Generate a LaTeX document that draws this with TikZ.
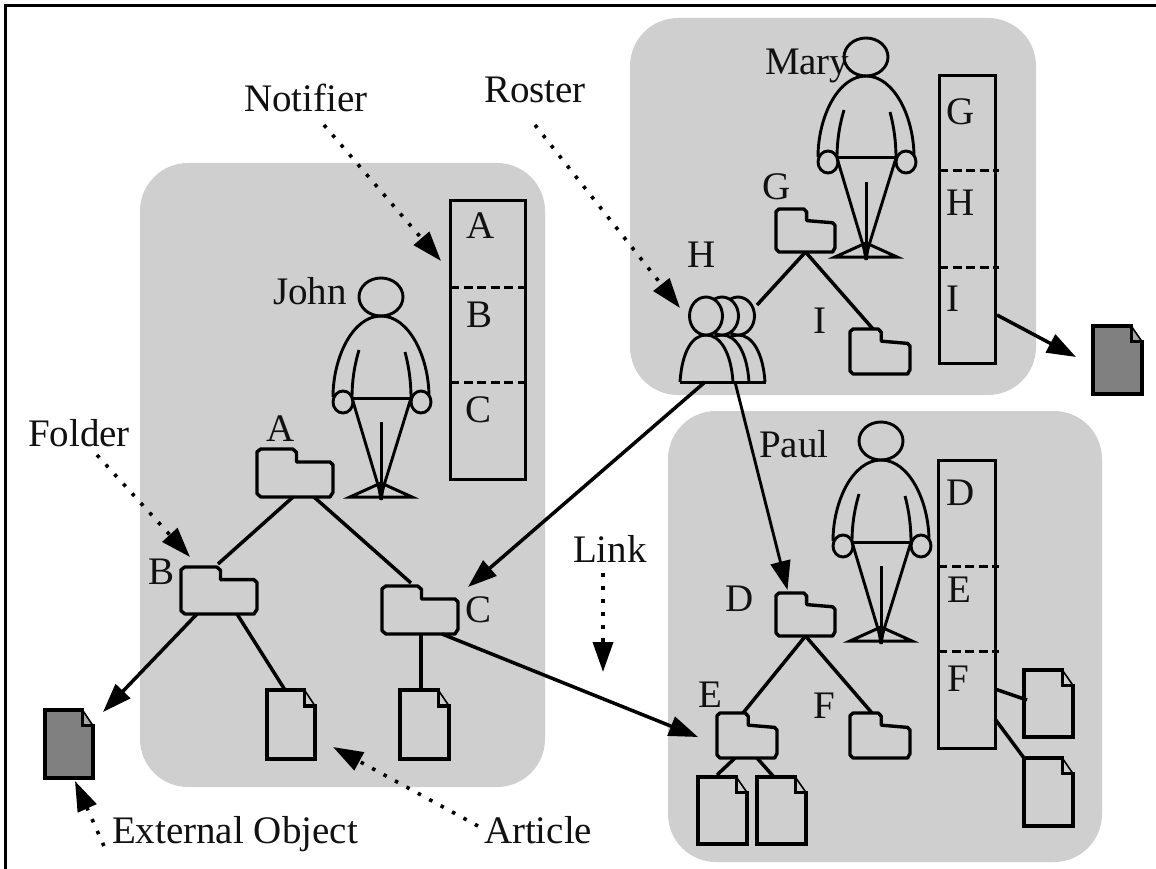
\documentclass[tikz,border=0pt]{standalone}
\usepackage{fontspec}
\setmainfont{Liberation Serif}
\usetikzlibrary{arrows.meta}
\definecolor{regiongray}{HTML}{CFCFCF}
\definecolor{docdark}{HTML}{808080}
\definecolor{foldlight}{HTML}{A6A6A6}
\definecolor{inkblack}{HTML}{111111}
\tikzset{
  region/.style={fill=regiongray,rounded corners=48pt},
  objbox/.style={inner sep=0pt,outer sep=0pt},
  lst/.style={draw=black,line width=3pt},
  sep dash/.style={draw=black,line width=3pt,dash pattern=on 9pt off 4.5pt},
  shapeline/.style={draw=black,line width=3.4pt,line join=round},
  figline/.style={draw=black,line width=2.9pt},
  link/.style={draw=black,line width=3.5pt},
  linkarrow/.style={draw=black,line width=3.5pt,-{Triangle[length=29pt,width=20pt]}},
  callout/.style={draw=black,line width=3.6pt,dash pattern=on 3.5pt off 9.5pt,-{Triangle[length=30pt,width=20pt,color=black,fill=black]}},
  lbl/.style={anchor=base west,inner sep=0pt,outer sep=0pt,text=inkblack,font=\fontsize{39}{44}\selectfont},
}
% folder: name, left, top, right, bottom, slope of the lower top edge
\newcommand{\folderobj}[6]{%
  \pgfmathsetmacro{\fw}{#4-#2}\pgfmathsetmacro{\fh}{#5-#3}%
  \node[objbox,minimum width=\fw pt,minimum height=\fh pt] (#1) at ({(#2+#4)/2},{(#3+#5)/2}) {};
  \begin{scope}[shift={(#2,#3)},x=\fw pt,y=-\fh pt]
    \draw[shapeline] (0,0.06)--(0.05,0)--(0.47,0)--(0.52,0.07)--(0.52,0.27)--(0.96,{0.27+#6})--(1,{0.33+#6})--(1,0.9)--(0.96,1)--(0.05,1)--(0,0.93)--cycle;
  \end{scope}}
% document: name, left, top, right, bottom, fill, fold fill
\newcommand{\docobj}[7]{%
  \pgfmathsetmacro{\fw}{#4-#2}\pgfmathsetmacro{\fh}{#5-#3}%
  \node[objbox,minimum width=\fw pt,minimum height=\fh pt] (#1) at ({(#2+#4)/2},{(#3+#5)/2}) {};
  \begin{scope}[shift={(#2,#3)},x=\fw pt,y=-\fh pt]
    \fill[#6] (0,0)--(0.78,0)--(1,0.23)--(1,1)--(0,1)--cycle;
    \fill[#7] (0.78,0)--(1,0.23)--(0.78,0.23)--cycle;
    \draw[shapeline,line join=miter] (0.78,0)--(0,0)--(0,1)--(1,1)--(1,0.23)--(0.78,0.23)--cycle;
    \draw[black,line width=1.6pt] (0.78,0)--(1,0.23);
  \end{scope}}
\newcommand{\personfig}[2]{%
  \begin{scope}[shift={(#1,#2)}]
    \draw[figline] (0,0) ellipse [x radius=22pt,y radius=19pt];
    \draw[figline] (-48,100) .. controls (-48,60) and (-28,19) .. (0,19) .. controls (28,19) and (48,60) .. (48,100);
    \draw[figline] (-22,53) .. controls (-27,70) and (-29,85) .. (-29,101);
    \draw[figline] (24,55) .. controls (28,70) and (30,85) .. (30,101);
    \draw[figline,fill=regiongray] (-38,105) ellipse [x radius=10pt,y radius=11pt];
    \draw[figline,fill=regiongray] (40,105) ellipse [x radius=10pt,y radius=11pt];
    \draw[figline,line width=3pt] (-29,101)--(30,101);
    \draw[figline] (-29,101)--(0,198)--(30,101);
    \draw[figline,line width=3pt] (0,125)--(0,203);
    \draw[figline,line width=3pt,line join=miter] (-31,200)--(0,186)--(31,200)--cycle;
    \fill[black] (-4,188)--(4,188)--(1.5,203)--(-1.5,203)--cycle;
  \end{scope}}
\newcommand{\rosterguy}[1]{%
  \draw[figline,fill=regiongray] (#1-26,382) .. controls (#1-24,352) and (#1-14,335) .. (#1,335) .. controls (#1+14,335) and (#1+25,352) .. (#1+27,382);
  \draw[figline,fill=regiongray] (#1,316) ellipse [x radius=16.5pt,y radius=19pt];}
\begin{document}
\begin{tikzpicture}[x=1pt,y=-1pt]
\useasboundingbox (0,0) rectangle (1156,869);
\fill[white] (0,0) rectangle (1156,869);
\coordinate (frameTL) at (5,6);
\coordinate (frameTR) at (1156,6);
\coordinate (frameBL) at (5,869);
\draw[black,line width=3pt] (frameBL)--(frameTL)--(frameTR);
% regions
\fill[region] (140,163) rectangle (545,787);
\fill[region] (630,18) rectangle (1036,395);
\fill[region] (668,411) rectangle (1102,862);
% lists
\node[objbox,lst,minimum width=75pt,minimum height=278pt] (listJ) at (488,340) {};
\node[objbox,lst,minimum width=56pt,minimum height=287pt] (listM) at (967,219.5) {};
\node[objbox,lst,minimum width=57pt,minimum height=288pt] (listP) at (966.5,604) {};
\coordinate (jA) at (450,287); \coordinate (jAr) at (527,287);
\coordinate (jB) at (450,382); \coordinate (jBr) at (527,382);
\coordinate (mA) at (939,171); \coordinate (mAr) at (999,171);
\coordinate (mB) at (939,267); \coordinate (mBr) at (999,267);
\coordinate (pA) at (938,566); \coordinate (pAr) at (999,566);
\coordinate (pB) at (938,651); \coordinate (pBr) at (999,651);
\draw[sep dash] (jA)--(jAr); \draw[sep dash] (jB)--(jBr);
\draw[sep dash] (mA)--(mAr); \draw[sep dash] (mB)--(mBr);
\draw[sep dash] (pA)--(pAr); \draw[sep dash] (pB)--(pBr);
% people
\personfig{381}{297}
\personfig{866}{57}
\personfig{881}{441}
% folders
\folderobj{fA}{257}{449}{333}{497}{0}
\folderobj{fB}{181}{567}{257}{614}{0}
\folderobj{fC}{382}{586}{458}{634}{0}
\folderobj{fG}{776}{209}{835}{252}{0.05}
\folderobj{fI}{850}{329}{910}{374}{0.05}
\folderobj{fD}{776}{593}{835}{636}{0.05}
\folderobj{fE}{717}{713}{777}{758}{0.05}
\folderobj{fF}{850}{713}{910}{758}{0.05}
% documents
\docobj{dExtL}{45}{710}{93}{778}{docdark}{foldlight}
\docobj{dExtR}{1093}{326}{1142}{394}{docdark}{foldlight}
\docobj{dB}{267}{690}{315}{759}{regiongray}{regiongray}
\docobj{dC}{400}{690}{449}{759}{regiongray}{regiongray}
\docobj{dE1}{698}{777}{747}{844}{regiongray}{regiongray}
\docobj{dE2}{757}{777}{806}{844}{regiongray}{regiongray}
\docobj{dF1}{1024}{670}{1073}{737}{regiongray}{regiongray}
\docobj{dF2}{1024}{758}{1073}{826}{regiongray}{regiongray}
% roster
\node[objbox,minimum width=86pt,minimum height=85pt] (roster) at (723,339.5) {};
\rosterguy{738}
\rosterguy{722}
\rosterguy{706}
\draw[figline,line width=3pt] (roster.south west)--(roster.south east);
% tree links
\draw[link] ([xshift=-2pt]fA.south)--([xshift=-1pt,yshift=3pt]fB.north);
\draw[link] ([xshift=19pt]fA.south)--([xshift=-47pt,yshift=3pt]fC.north east);
\draw[link] ([xshift=18pt]fB.south)--([xshift=-6pt]dB.north);
\draw[link] ([xshift=1pt]fC.south)--([xshift=-3.5pt]dC.north);
\draw[link] (fG.south)--([xshift=-9pt,yshift=-8pt]roster.north east);
\draw[link] (fG.south)--([xshift=-7pt]fI.north);
\draw[link] (fD.south)--([xshift=-4pt]fE.north);
\draw[link] (fD.south)--([xshift=-8pt]fF.north);
\draw[link] ([xshift=-12pt]fE.south)--([xshift=-5.5pt,yshift=2pt]dE1.north);
\draw[link] ([xshift=10pt]fE.south)--([xshift=-8.5pt,yshift=1pt]dE2.north);
\draw[link] ([yshift=59pt]listP.south east)--([yshift=3.5pt,xshift=3pt]dF1.west);
\draw[link] ([yshift=29pt]listP.south east)--(dF2.north west);
% reference arrows
\draw[linkarrow] ([xshift=-22pt]fB.south)--([shift={(10pt,-2pt)}]dExtL.north east);
\draw[linkarrow] ([xshift=-16pt]fC.south east)--([shift={(-19pt,-24pt)}]fE.north west);
\draw[linkarrow] ([xshift=-18pt]roster.south)--([shift={(10pt,47pt)}]fC.south east);
\draw[linkarrow,line width=2.9pt] ([xshift=12pt]roster.south)--([xshift=-18pt,yshift=3pt]fD.north);
\draw[linkarrow] ([shift={(2pt,48pt)}]listM.south east)--([shift={(-17pt,3pt)}]dExtR.west);
% labels
\node[lbl] (tNot) at (244,112) {Notifier};
\node[lbl] (tRos) at (484,103) {Roster};
\node[lbl] (tFol) at (28,446) {Folder};
\node[lbl] (tLnk) at (573,562) {Link};
\node[lbl] (tExt) at (112,843) {External Object};
\node[lbl] (tArt) at (484,843) {Article};
\node[lbl] (tJ) at (273,304) {John};
\node[lbl] (tM) at (765,75) {Mary};
\node[lbl] (tP) at (759,457) {Paul};
\node[lbl] (lA) at (466,238) {A};
\node[lbl] (lB) at (466,327) {B};
\node[lbl] (lC) at (465,422) {C};
\node[lbl] (lG) at (946,125) {G};
\node[lbl] (lH) at (946,215) {H};
\node[lbl] (lI) at (946,311) {I};
\node[lbl] (lD) at (946,505) {D};
\node[lbl] (lE) at (947,602) {E};
\node[lbl] (lF) at (947,691) {F};
\node[lbl] (cA) at (266,441) {A};
\node[lbl] (cB) at (148,584) {B};
\node[lbl] (cC) at (465,622) {C};
\node[lbl] (cD) at (725,611) {D};
\node[lbl] (cE) at (698,707) {E};
\node[lbl] (cF) at (813,718) {F};
\node[lbl] (cG) at (762,200) {G};
\node[lbl] (cH) at (687,267) {H};
\node[lbl] (cI) at (813,333) {I};
% call-outs
\coordinate (sNot) at (324,125); \coordinate (eNot) at (441,261);
\coordinate (sRos) at (535,125); \coordinate (eRos) at (680,308);
\coordinate (sFol) at (97,455);  \coordinate (eFol) at (190,557);
\coordinate (sLnk) at (603,573); \coordinate (eLnk) at (603,672);
\coordinate (sExt) at (104,846); \coordinate (eExt) at (75,781);
\coordinate (sArt) at (478,826); \coordinate (eArt) at (333,747);
\draw[callout] (sNot)--(eNot);
\draw[callout] (sRos)--(eRos);
\draw[callout] (sFol)--(eFol);
\draw[callout] (sLnk)--(eLnk);
\draw[callout] (sExt)--(eExt);
\draw[callout] (sArt)--(eArt);
\end{tikzpicture}
\end{document}
